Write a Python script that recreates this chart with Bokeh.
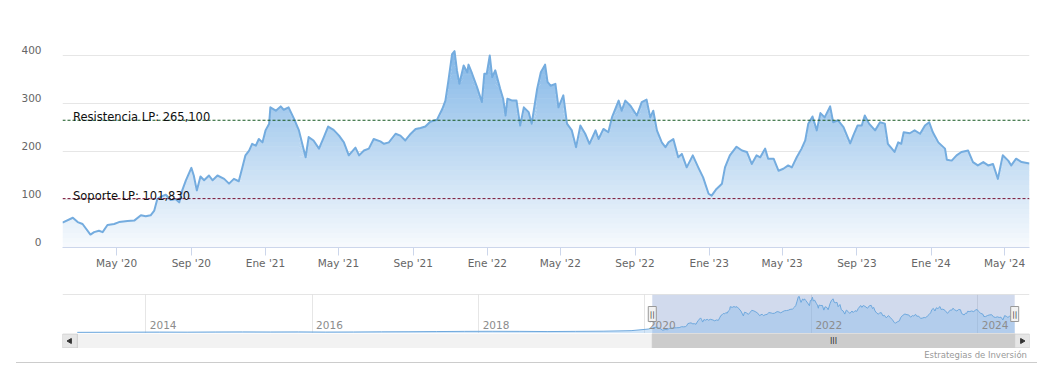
import numpy as np
import pandas as pd
from bokeh.plotting import figure
from bokeh.layouts import column
from bokeh.models import Range1d, LinearAxis, FixedTicker, Grid, Label, Span, Div
from bokeh.embed import file_html
from bokeh.resources import INLINE
from bokeh.core.properties import value

# ---------------- data ----------------
dates = [
    "2020-02-02", "2020-02-19", "2020-02-27", "2020-03-06", "2020-03-19", "2020-03-25", "2020-04-02", "2020-04-08",
    "2020-04-16", "2020-04-27", "2020-05-05", "2020-05-19", "2020-05-30", "2020-06-10", "2020-06-18", "2020-06-26",
    "2020-07-02", "2020-07-07", "2020-07-13", "2020-07-21", "2020-07-29", "2020-08-06", "2020-08-12", "2020-08-17",
    "2020-08-23", "2020-09-01", "2020-09-05", "2020-09-10", "2020-09-16", "2020-09-22", "2020-09-30", "2020-10-06",
    "2020-10-14", "2020-10-25", "2020-11-02", "2020-11-10", "2020-11-18", "2020-11-24", "2020-11-29", "2020-12-05",
    "2020-12-10", "2020-12-16", "2020-12-21", "2020-12-27", "2021-01-01", "2021-01-07", "2021-01-09", "2021-01-18",
    "2021-01-26", "2021-01-31", "2021-02-08", "2021-02-17", "2021-02-25", "2021-03-08", "2021-03-13", "2021-03-21",
    "2021-03-30", "2021-04-07", "2021-04-14", "2021-04-23", "2021-05-02", "2021-05-10", "2021-05-18", "2021-05-29",
    "2021-06-04", "2021-06-12", "2021-06-20", "2021-06-28", "2021-07-09", "2021-07-15", "2021-07-23", "2021-08-03",
    "2021-08-11", "2021-08-19", "2021-08-28", "2021-09-05", "2021-09-13", "2021-09-21", "2021-09-29", "2021-10-10",
    "2021-10-19", "2021-10-24", "2021-10-29", "2021-11-04", "2021-11-08", "2021-11-12", "2021-11-16", "2021-11-23",
    "2021-11-29", "2021-12-01", "2021-12-07", "2021-12-15", "2021-12-23", "2021-12-27", "2021-12-31", "2022-01-05",
    "2022-01-09", "2022-01-14", "2022-01-22", "2022-01-27", "2022-01-31", "2022-02-03", "2022-02-11", "2022-02-18",
    "2022-02-24", "2022-03-02", "2022-03-10", "2022-03-15", "2022-03-24", "2022-03-30", "2022-04-06", "2022-04-10",
    "2022-04-15", "2022-04-23", "2022-04-28", "2022-05-06", "2022-05-12", "2022-05-20", "2022-05-27", "2022-06-03",
    "2022-06-11", "2022-06-18", "2022-06-28", "2022-07-03", "2022-07-11", "2022-07-19", "2022-07-25", "2022-08-05",
    "2022-08-10", "2022-08-16", "2022-08-24", "2022-09-04", "2022-09-12", "2022-09-20", "2022-09-26", "2022-10-01",
    "2022-10-07", "2022-10-15", "2022-10-21", "2022-10-26", "2022-11-03", "2022-11-11", "2022-11-17", "2022-11-25",
    "2022-12-05", "2022-12-14", "2022-12-22", "2022-12-31", "2023-01-05", "2023-01-13", "2023-01-22", "2023-01-27",
    "2023-02-04", "2023-02-15", "2023-02-24", "2023-03-04", "2023-03-12", "2023-03-20", "2023-03-26", "2023-04-03",
    "2023-04-08", "2023-04-17", "2023-04-25", "2023-05-03", "2023-05-11", "2023-05-17", "2023-05-25", "2023-06-02",
    "2023-06-08", "2023-06-13", "2023-06-20", "2023-06-27", "2023-07-03", "2023-07-10", "2023-07-19", "2023-07-24",
    "2023-08-01", "2023-08-10", "2023-08-21", "2023-08-26", "2023-09-02", "2023-09-09", "2023-09-14", "2023-09-21",
    "2023-10-01", "2023-10-09", "2023-10-17", "2023-10-22", "2023-11-02", "2023-11-08", "2023-11-13", "2023-11-17",
    "2023-11-27", "2023-12-05", "2023-12-14", "2023-12-22", "2023-12-29", "2024-01-04", "2024-01-13", "2024-01-24",
    "2024-01-27", "2024-02-04", "2024-02-12", "2024-02-20", "2024-03-02", "2024-03-10", "2024-03-18", "2024-03-27",
    "2024-04-04", "2024-04-12", "2024-04-20", "2024-04-28", "2024-05-07", "2024-05-12", "2024-05-20", "2024-05-29",
    "2024-06-11",
]
prices = [
    52, 62, 53, 49, 27, 32, 35, 32,
    47, 49, 53, 55, 56, 67, 65, 67,
    77, 101, 106, 110, 99, 101, 94, 119,
    140, 166, 150, 119, 148, 140, 150, 140,
    150, 143, 133, 143, 138, 167, 192, 202,
    216, 212, 226, 219, 244, 258, 292, 285,
    294, 287, 292, 268, 244, 188, 230, 223,
    206, 230, 252, 245, 233, 219, 192, 208,
    192, 202, 206, 226, 221, 216, 219, 237,
    233, 223, 237, 247, 249, 252, 262, 266,
    289, 306, 348, 403, 409, 369, 341, 379,
    365, 381, 362, 334, 303, 362, 362, 400,
    355, 369, 331, 310, 275, 310, 306, 306,
    254, 292, 282, 258, 331, 365, 381, 345,
    337, 341, 292, 317, 258, 244, 209, 254,
    237, 216, 244, 226, 247, 240, 271, 306,
    285, 306, 296, 275, 303, 308, 271, 285,
    244, 219, 209, 219, 226, 188, 195, 167,
    192, 167, 146, 112, 108, 122, 133, 167,
    192, 210, 202, 199, 174, 192, 188, 206,
    185, 185, 160, 164, 171, 167, 188, 206,
    223, 258, 273, 244, 280, 271, 294, 261,
    265, 251, 217, 233, 254, 254, 275, 258,
    244, 261, 258, 216, 199, 219, 216, 240,
    238, 244, 237, 254, 261, 240, 219, 206,
    183, 181, 192, 199, 202, 178, 171, 178,
    171, 174, 143, 192, 181, 171, 185, 178,
    175,
]
# earlier history, only visible in the navigator (estimated)
hist_dates = [
    "2013-03-06", "2013-07-01", "2013-11-01", "2014-03-01", "2014-07-01", "2014-11-01", "2015-03-01",
    "2015-07-01", "2015-11-01", "2016-03-01", "2016-07-01", "2016-11-01", "2017-03-01", "2017-07-01",
    "2017-11-01", "2018-03-01", "2018-07-01", "2018-11-01", "2019-03-01", "2019-07-01", "2019-11-01",
    "2020-01-15",
]
hist_prices = [3, 4, 5, 6, 5, 7, 8, 7, 8, 6, 7, 9, 10, 12, 14, 15, 14, 12, 14, 16, 22, 40]

level_names = ["Resistencia LP", "Soporte LP"]
level_values = [265.100, 101.830]
level_colors = ["#14571f", "#7a0f33"]

x_tick_dates = ["2020-05-01", "2020-09-01", "2021-01-01", "2021-05-01", "2021-09-01", "2022-01-01", "2022-05-01",
                "2022-09-01", "2023-01-01", "2023-05-01", "2023-09-01", "2024-01-01", "2024-05-01"]
x_tick_labels = ["May '20", "Sep '20", "Ene '21", "May '21", "Sep '21", "Ene '22", "May '22",
                 "Sep '22", "Ene '23", "May '23", "Sep '23", "Ene '24", "May '24"]
y_ticks = [0, 100, 200, 300, 400]
y_grid_ticks = [0, 100, 200, 300, 400, 500]
nav_year_labels = ["2014", "2016", "2018", "2020", "2022", "2024"]
credits_text = "Estrategias de Inversión"

# ---------------- helpers ----------------
FONT = "DejaVu Sans"
DAY = 86400000.0
W = 1042
RB = 13


def to_ms(seq):
    return pd.to_datetime(seq).values.astype("datetime64[ms]").astype("int64").astype(float)


x = to_ms(dates)
v = np.array(prices, dtype=float)
nav_x = to_ms(hist_dates + dates)
nav_v = np.array(hist_prices + prices, dtype=float)
xt = to_ms(x_tick_dates)
yr = to_ms([y + "-01-01" for y in nav_year_labels])

# ---------------- main chart ----------------
p = figure(width=W, height=288, x_axis_type="datetime",
           x_range=Range1d(x[0], x[-1]), y_range=Range1d(0, 500),
           y_axis_location=None, output_backend="svg", toolbar_location=None, tools="",
           title=None, min_border_left=62, min_border_right=RB, min_border_top=7, min_border_bottom=41)
p.outline_line_color = None
p.background_fill_color = "white"
p.border_fill_color = "white"
p.xgrid.visible = False
p.ygrid.visible = False
p.add_layout(Grid(dimension=1, ticker=FixedTicker(ticks=y_grid_ticks), grid_line_color="#e6e6e6"))

xa = p.xaxis[0]
xa.ticker = FixedTicker(ticks=list(xt))
xa.major_label_overrides = {float(t): lab for t, lab in zip(xt, x_tick_labels)}
xa.axis_line_color = "#ccd6eb"
xa.major_tick_line_color = "#ccd6eb"
xa.major_tick_out = 8
xa.major_tick_in = 0
xa.minor_tick_line_color = None
xa.major_label_standoff = 1
xa.major_label_text_font = FONT
xa.major_label_text_font_size = "10.5px"
xa.major_label_text_color = "#666666"

# y labels sit a little above their grid lines
lab_shift = 12.5
p.extra_y_ranges = {"ylab": Range1d(0 - lab_shift, 500 - lab_shift)}
ya = LinearAxis(y_range_name="ylab", ticker=FixedTicker(ticks=y_ticks))
ya.axis_line_color = None
ya.major_tick_line_color = None
ya.minor_tick_line_color = None
ya.major_label_standoff = 15
ya.major_label_text_font = FONT
ya.major_label_text_font_size = "10.5px"
ya.major_label_text_color = "#666666"
p.add_layout(ya, "left")

# gradient area fill built from horizontal bands
top_c = np.array([131, 183, 231], dtype=float)
bot_c = np.array([247, 250, 253], dtype=float)
vmax = v.max()
levels = np.arange(0, vmax + 10, 10)
for L0, L1 in zip(levels[:-1], levels[1:]):
    t = min(((L0 + L1) / 2) / vmax, 1.0)
    c = bot_c + (top_c - bot_c) * t
    col = "#%02x%02x%02x" % tuple(int(round(k)) for k in c)
    p.varea(x=x, y1=np.minimum(v, L0), y2=np.minimum(v, L1 + 0.8), fill_color=col)

p.line(x, v, line_color="#74acdf", line_width=2, line_join="round")

for name, val, col in zip(level_names, level_values, level_colors):
    p.add_layout(Span(location=val, dimension="width", line_color=col, line_dash="3 2", line_width=1))
    txt = f"{name}: {val:,.3f}".replace(".", ",")
    p.add_layout(Label(x=10.5, x_units="screen", y=val, y_units="data", y_offset=3, text=txt,
                       text_font=FONT, text_font_size="11.5px", text_color="#111111",
                       text_baseline="alphabetic"))

# ---------------- navigator ----------------
pad = 65 * DAY
nav_ymin, nav_ymax = -10, 430
nav_range = Range1d(nav_x[0] - pad, nav_x[-1] + pad)
n = figure(width=W, height=45, x_range=nav_range, y_range=Range1d(nav_ymin, nav_ymax),
           x_axis_location=None, y_axis_location=None, output_backend="svg", toolbar_location=None,
           tools="", title=None, min_border_left=62, min_border_right=RB, min_border_top=6,
           min_border_bottom=0)
n.outline_line_color = None
n.xgrid.visible = False
n.ygrid.visible = False
n.add_layout(Grid(dimension=0, ticker=FixedTicker(ticks=list(yr)), grid_line_color="#e6e6e6"))

n.quad(left=[x[0]], right=[x[-1]], bottom=[nav_ymin], top=[nav_ymax],
       fill_color="#6685c2", fill_alpha=0.3, line_color=None)
n.varea(x=nav_x, y1=nav_ymin, y2=nav_v, fill_color="#7cb5ec", fill_alpha=0.35)
n.line(nav_x, nav_v, line_color="#6ea8dd", line_width=1)
n.add_layout(Span(location=nav_ymax, dimension="width", line_color="#cccccc", line_width=1))

label_shift = 76 * DAY
n.extra_x_ranges = {"navlab": Range1d(nav_range.start - label_shift, nav_range.end - label_shift)}
na = LinearAxis(x_range_name="navlab", ticker=FixedTicker(ticks=list(yr)))
na.major_label_overrides = {float(t): lab for t, lab in zip(yr, nav_year_labels)}
na.axis_line_color = None
na.major_tick_line_color = None
na.minor_tick_line_color = None
na.major_tick_out = 0
na.major_label_standoff = -13
na.major_label_text_font = FONT
na.major_label_text_font_size = "10.5px"
na.major_label_text_color = "#8c8c8c"
n.add_layout(na, "below")

mid = (nav_ymin + nav_ymax) / 2
n.rect(x=[x[0], x[-1]], y=[mid, mid], width=8, height=15, width_units="screen", height_units="screen",
       fill_color="#f2f2f2", line_color="#999999")
n.text(x=[x[0], x[-1]], y=[mid, mid], text=["||", "||"], text_align="center", text_baseline="middle",
       text_font=value(FONT), text_font_size="7.5px", text_color="#333333")

# ---------------- scrollbar ----------------
s = figure(width=W, height=15, x_range=nav_range, y_range=Range1d(0, 1),
           x_axis_location=None, y_axis_location=None, output_backend="svg", toolbar_location=None,
           tools="", title=None, min_border_left=62, min_border_right=RB, min_border_top=0,
           min_border_bottom=0)
s.outline_line_color = None
s.xgrid.visible = False
s.ygrid.visible = False
s.quad(left=[nav_range.start], right=[nav_range.end], bottom=[0], top=[1], fill_color="#f2f2f2", line_color=None)
s.quad(left=[x[0]], right=[x[-1]], bottom=[0], top=[1], fill_color="#cccccc", line_color="#cccccc")
s.quad(left=[nav_range.start, nav_x[-1]], right=[nav_x[0], nav_range.end], bottom=[0.03, 0.03], top=[0.97, 0.97],
       fill_color="#e6e6e6", line_color="#cccccc")
s.scatter(x=[(nav_range.start + nav_x[0]) / 2], y=[0.5], marker="triangle", size=5, angle=np.pi / 2,
          fill_color="#333333", line_color="#333333")
s.scatter(x=[(nav_x[-1] + nav_range.end) / 2], y=[0.5], marker="triangle", size=5, angle=-np.pi / 2,
          fill_color="#333333", line_color="#333333")
s.text(x=[(x[0] + x[-1]) / 2], y=[0.5], text=["III"], text_align="center", text_baseline="middle",
       text_font=value(FONT), text_font_size="8px", text_color="#333333")

# ---------------- footer (credits + border) ----------------
footer = Div(text=credits_text, width=1021, height=15, margin=(0, 0, 0, 16),
             styles={"text-align": "right", "font-family": FONT, "font-size": "8.5px", "color": "#999999",
                     "line-height": "14px", "border-bottom": "1px solid #cccccc", "padding-right": "10px",
                     "box-sizing": "border-box"})

layout = column(p, n, s, footer, spacing=0)
open("out.html", "w").write(file_html(layout, INLINE))
